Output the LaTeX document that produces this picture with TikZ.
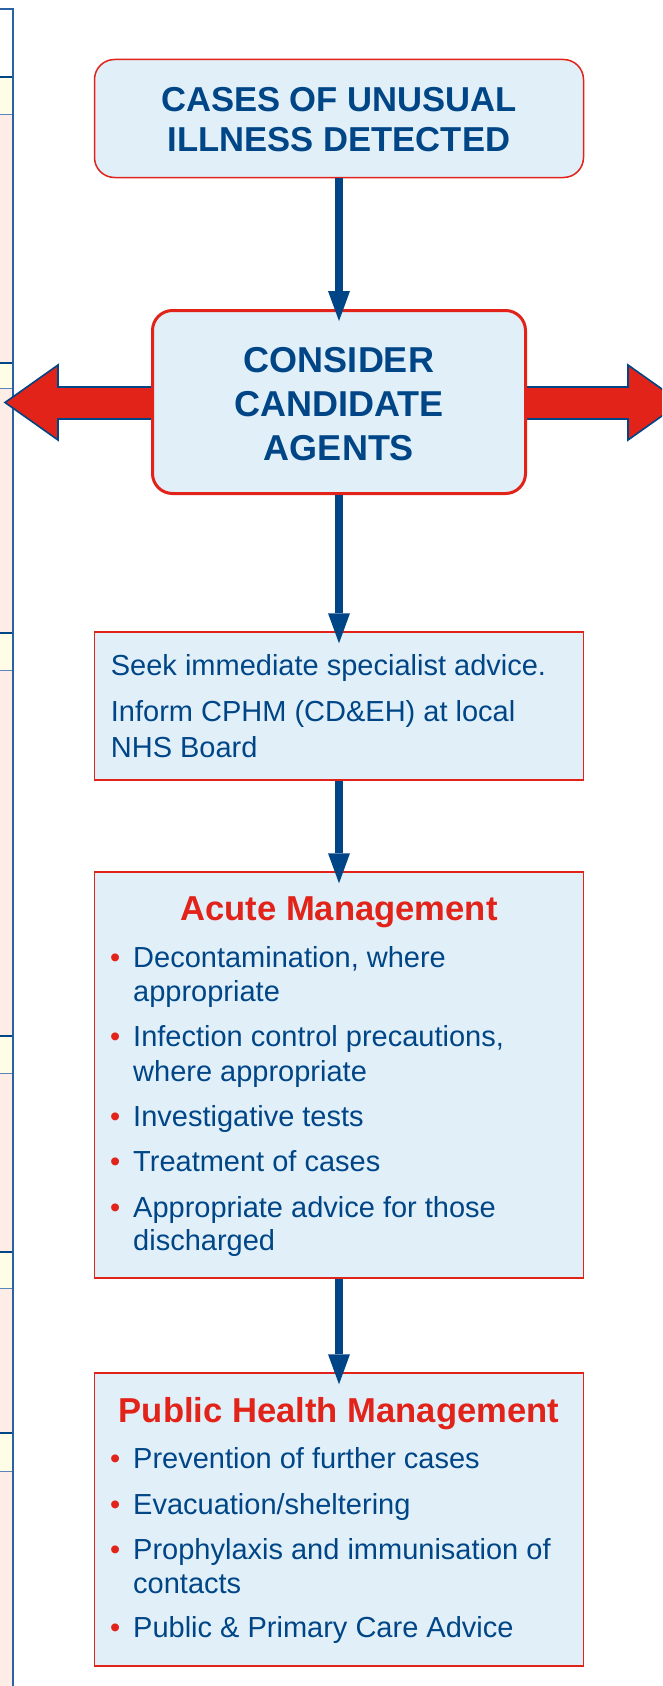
\documentclass[tikz,border=0pt]{standalone}
\usepackage{fontspec}
\setmainfont{Liberation Sans}
\usetikzlibrary{arrows.meta}
\definecolor{pblue}{HTML}{004687}
\definecolor{pred}{HTML}{E2231A}
\definecolor{pfill}{HTML}{E1EFF9}
\definecolor{spink}{HTML}{FDEDE6}
\definecolor{syellow}{HTML}{FFFDE6}
\definecolor{sline}{HTML}{2A62A3}
\definecolor{slight}{HTML}{5A85BA}
\definecolor{ablue}{HTML}{004586}
\tikzset{
  rbox/.style={draw=pred, fill=pfill, line width=1.5pt, rounded corners=20pt, inner sep=0pt},
  sbox/.style={draw=pred, fill=pfill, line width=1.5pt, inner sep=0pt},
  conn/.style={draw=ablue, line width=8.5pt, -{Triangle[width=22pt,length=30pt,line width=0pt]}, shorten >=-12pt},
  bigarr/.style={fill=pred, draw=ablue, line width=1.6pt, line join=miter},
  hone/.style={text=pblue, font=\fontsize{34.6}{40}\selectfont\bfseries, inner sep=0pt, anchor=base},
  htwo/.style={text=pblue, font=\fontsize{36}{44}\selectfont\bfseries, inner sep=0pt, anchor=base},
  ttl/.style={text=pred, font=\fontsize{34.6}{40}\selectfont\bfseries, inner sep=0pt, anchor=base},
  body/.style={text=pblue, font=\fontsize{29}{35}\selectfont, inner sep=0pt, anchor=base west},
  band/.style={fill=syellow},
  bandtop/.style={draw=ablue, line width=2.5pt},
  bandbot/.style={draw=slight, line width=1pt}
}
\newcommand\bl{\makebox[23pt][l]{\textcolor{pred}{•}}}
\begin{document}
\begin{tikzpicture}[x=1pt,y=-1pt]
\useasboundingbox[fill=white] (0,0) rectangle (662,1686);
\begin{scope}
\clip (0,0) rectangle (662,1686);
% left strip
\fill[spink] (0,77) rectangle (12.5,1686);
\fill[band] (0,77) rectangle (12.5,114);
\fill[band] (0,363) rectangle (12.5,388);
\fill[band] (0,633) rectangle (12.5,670);
\fill[band] (0,1036) rectangle (12.5,1073);
\fill[band] (0,1252) rectangle (12.5,1288);
\fill[band] (0,1433) rectangle (12.5,1471);
\foreach \t/\b in {77/114,363/388,633/670,1036/1073,1252/1288,1433/1471}{
  \draw[bandtop] (0,\t) -- (12.5,\t);
  \draw[bandbot] (0,\b) -- (12.5,\b);
}
\draw[sline, line width=2pt] (0,9.5) -- (12.5,9.5) -- (12.5,1686);

% big red arrows
\draw[bigarr] (160,387) -- (58,387) -- (58,365) -- (5,402.5) -- (58,440) -- (58,419) -- (160,419) ;
\draw[bigarr] (520,387) -- (628,387) -- (628,365) -- (681,402.5) -- (628,440) -- (628,419) -- (520,419) ;

% boxes
\node[rbox, minimum width=489pt, minimum height=118pt] (b1) at (339,118.5) {};
\node[rbox, line width=3pt, minimum width=373pt, minimum height=183pt] (b2) at (339,402) {};
\node[sbox, minimum width=489pt, minimum height=148pt] (b3) at (339,706) {};
\node[sbox, minimum width=489pt, minimum height=406pt] (b4) at (339,1075) {};
\node[sbox, minimum width=489pt, minimum height=293pt] (b5) at (339,1519.5) {};
\end{scope}

% connectors
\draw[conn] (b1.south) -- (b2.north);
\draw[conn] (b2.south) -- (b3.north);
\draw[conn] (b3.south) -- (b4.north);
\draw[conn] (b4.south) -- (b5.north);

% box 1 text
\node[hone] (t1a) at (339,111.7) {CASES OF UNUSUAL};
\node[hone] (t1b) at (339,151.7) {ILLNESS DETECTED};
% box 2 text
\node[htwo] (t2a) at (339,372) {CONSIDER};
\node[htwo] (t2b) at (339,416) {CANDIDATE};
\node[htwo] (t2c) at (339,460) {AGENTS};
% box 3 text
\node[body] (t3a) at (110.7,675) {Seek immediate specialist advice.};
\node[body] (t3b) at (110.7,721.7) {Inform CPHM (CD\&EH) at local};
\node[body] (t3c) at (110.7,757) {NHS Board};
% box 4 text
\node[ttl] (t4) at (339,920.7) {Acute Management};
\node[body] (t4a) at (110,967) {\bl Decontamination, where};
\node[body] (t4a2) at (133,1001.7) {appropriate};
\node[body] (t4b) at (110,1046) {\bl Infection control precautions,};
\node[body] (t4b2) at (133,1081.7) {where appropriate};
\node[body] (t4c) at (110,1126.7) {\bl Investigative tests};
\node[body] (t4d) at (110,1171.7) {\bl Treatment of cases};
\node[body] (t4e) at (110,1217.3) {\bl Appropriate advice for those};
\node[body] (t4e2) at (133,1250.7) {discharged};
% box 5 text
\node[ttl] (t5) at (339,1422.7) {Public Health Management};
\node[body] (t5a) at (110,1468) {\bl Prevention of further cases};
\node[body] (t5b) at (110,1514) {\bl Evacuation/sheltering};
\node[body] (t5c) at (110,1559) {\bl Prophylaxis and immunisation of};
\node[body] (t5c2) at (133,1593) {contacts};
\node[body] (t5d) at (110,1637) {\bl Public \& Primary Care Advice};
\end{tikzpicture}
\end{document}
